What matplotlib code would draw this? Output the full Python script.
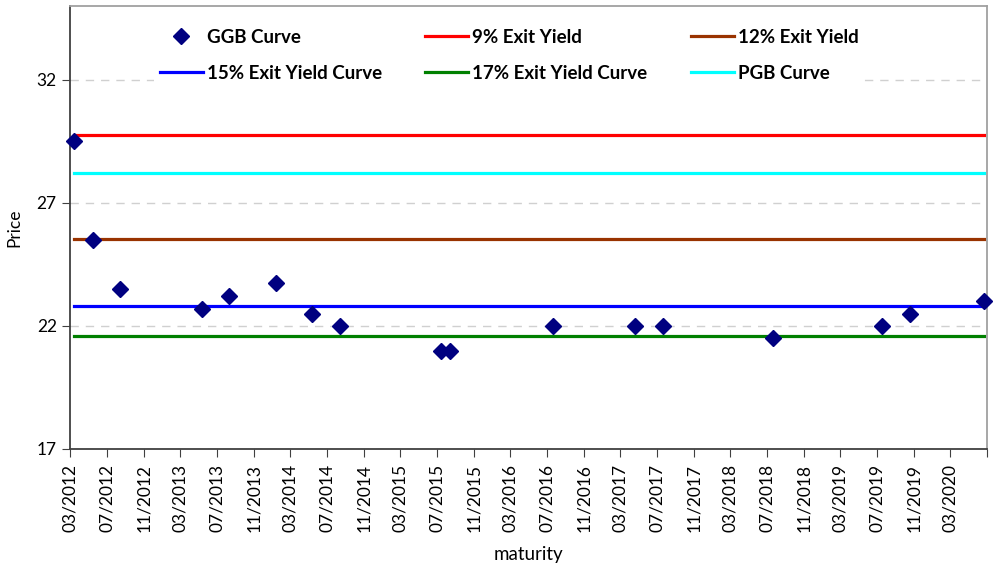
import matplotlib
matplotlib.use("Agg")
import matplotlib.pyplot as plt
import matplotlib.dates as mdates
import pandas as pd

plt.rcParams['font.family'] = ['Lato', 'DejaVu Sans']

ggb_dates = ["2012-03-14", "2012-05-15", "2012-08-15", "2013-05-13", "2013-08-11",
             "2014-01-13", "2014-05-13", "2014-08-13", "2015-07-14", "2015-08-16",
             "2016-07-20", "2017-04-20", "2017-07-20", "2018-07-20", "2019-07-20",
             "2019-10-20", "2020-06-20"]
ggb_prices = [29.5, 25.5, 23.5, 22.7, 23.2, 23.75, 22.5, 22.0, 21.0, 21.0,
              22.0, 22.0, 22.0, 21.5, 22.0, 22.5, 23.0]

exit_9 = 29.75
exit_12 = 25.55
exit_15 = 22.8
exit_17 = 21.58
pgb = 28.2

tick_dates = pd.date_range("2012-03-01", "2020-07-01", freq="4MS")
tick_labels = [d.strftime("%m/%Y") for d in tick_dates]
tick_labels[-1] = ""

x = pd.to_datetime(ggb_dates)
span = [x[0], x[-1]]

fig = plt.figure(figsize=(9.93, 5.73), dpi=100)
ax = fig.add_axes([70/993, 1-449/573, 917/993, 443/573])

lw = 2.3
l9, = ax.plot(span, [exit_9]*2, color="#FF0000", lw=lw, label="9% Exit Yield")
l12, = ax.plot(span, [exit_12]*2, color="#993300", lw=lw, label="12% Exit Yield")
l15, = ax.plot(span, [exit_15]*2, color="#0000FF", lw=lw, label="15% Exit Yield Curve")
l17, = ax.plot(span, [exit_17]*2, color="#008000", lw=lw, label="17% Exit Yield Curve")
lp, = ax.plot(span, [pgb]*2, color="#00FFFF", lw=lw, label="PGB Curve")
g, = ax.plot(x, ggb_prices, linestyle="none", marker="D", ms=8.5, color="#000080",
             label="GGB Curve", clip_on=False, zorder=5)

ax.set_xlim(pd.Timestamp("2012-03-01"), pd.Timestamp("2020-07-01"))
ax.set_ylim(17, 35)
ax.set_yticks([17, 22, 27, 32])
ax.set_xticks(tick_dates)
ax.set_xticklabels(tick_labels, rotation=90, fontsize=12.5)
ax.tick_params(axis="y", labelsize=12.5, length=6, direction="out", color="#404040")
ax.tick_params(axis="x", length=6, direction="out", color="#404040", pad=5)
ax.grid(axis="y", linestyle=(0, (6, 5)), color="#d0d0d0", lw=1)
ax.set_axisbelow(True)

for s in ["left", "bottom"]:
    ax.spines[s].set_color("#404040")
    ax.spines[s].set_linewidth(1.3)
for s in ["top", "right"]:
    ax.spines[s].set_color("#a0a0a0")
    ax.spines[s].set_linewidth(1.3)

ax.set_ylabel("Price", fontsize=12.5, labelpad=10)
ax.set_xlabel("maturity", fontsize=13.5, labelpad=10)

leg = ax.legend(handles=[g, l15, l9, l17, l12, lp], ncol=3, loc="center",
                bbox_to_anchor=(0.479, 0.889), frameon=True, framealpha=1,
                edgecolor="none", facecolor="white",
                prop={"weight": "bold", "size": 13.5}, handlelength=2.3,
                handletextpad=0.22, labelspacing=1.0, columnspacing=2.3,
                borderpad=0.3)

fig.savefig("out.png", dpi=100)
